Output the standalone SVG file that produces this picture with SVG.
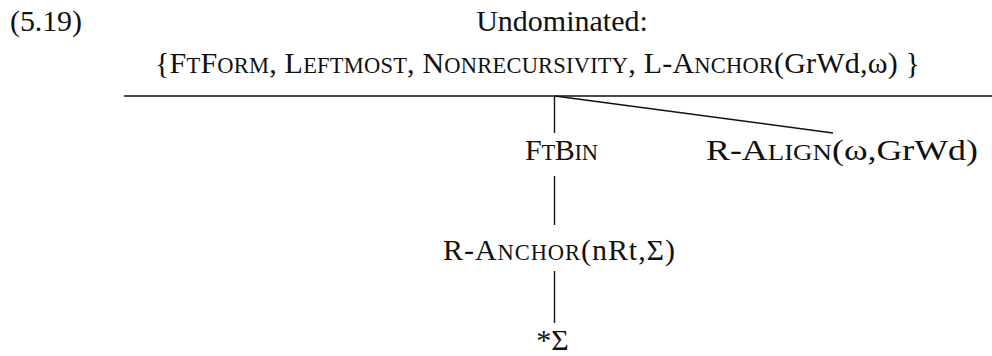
<svg xmlns="http://www.w3.org/2000/svg" width="992" height="356" viewBox="0 0 992 356">
<style>
text{font-family:"Liberation Serif","Times New Roman",serif;font-size:30px;fill:#111;}
.s{font-size:22.5px;}
.m{text-anchor:middle;}
line{stroke:#111;stroke-width:1.4;}
</style>
<rect width="992" height="356" fill="#fff"/>
<g id="label"><text x="10" y="31" textLength="72" lengthAdjust="spacing">(5.19)</text></g>
<g id="root">
<text class="m" x="562" y="31">Undominated:</text>
<text x="155" y="73" textLength="765" lengthAdjust="spacing">{F<tspan class="s">T</tspan>F<tspan class="s">ORM</tspan>, L<tspan class="s">EFTMOST</tspan>, N<tspan class="s">ONRECURSIVITY</tspan>, L-A<tspan class="s">NCHOR</tspan>(GrWd,ω) }</text>
<line x1="124" y1="96" x2="992" y2="96"/>
</g>
<g id="ftbin"><text x="525" y="160" textLength="73" lengthAdjust="spacing">F<tspan class="s">T</tspan>B<tspan class="s">IN</tspan></text></g>
<g id="ralign"><text x="706" y="160" textLength="272" lengthAdjust="spacingAndGlyphs">R-A<tspan class="s">LIGN</tspan>(ω,GrWd)</text></g>
<g id="ranchor"><text x="443" y="260" textLength="232" lengthAdjust="spacing">R-A<tspan class="s">NCHOR</tspan>(nRt,Σ)</text></g>
<g id="sigma"><text class="m" x="552.5" y="350">*Σ</text></g>
<g id="connectors">
<line x1="554.5" y1="96" x2="554.5" y2="133"/>
<line x1="555" y1="96" x2="833" y2="133"/>
<line x1="554.5" y1="176" x2="554.5" y2="225"/>
<line x1="554.5" y1="271" x2="554.5" y2="323"/>
</g>
</svg>
